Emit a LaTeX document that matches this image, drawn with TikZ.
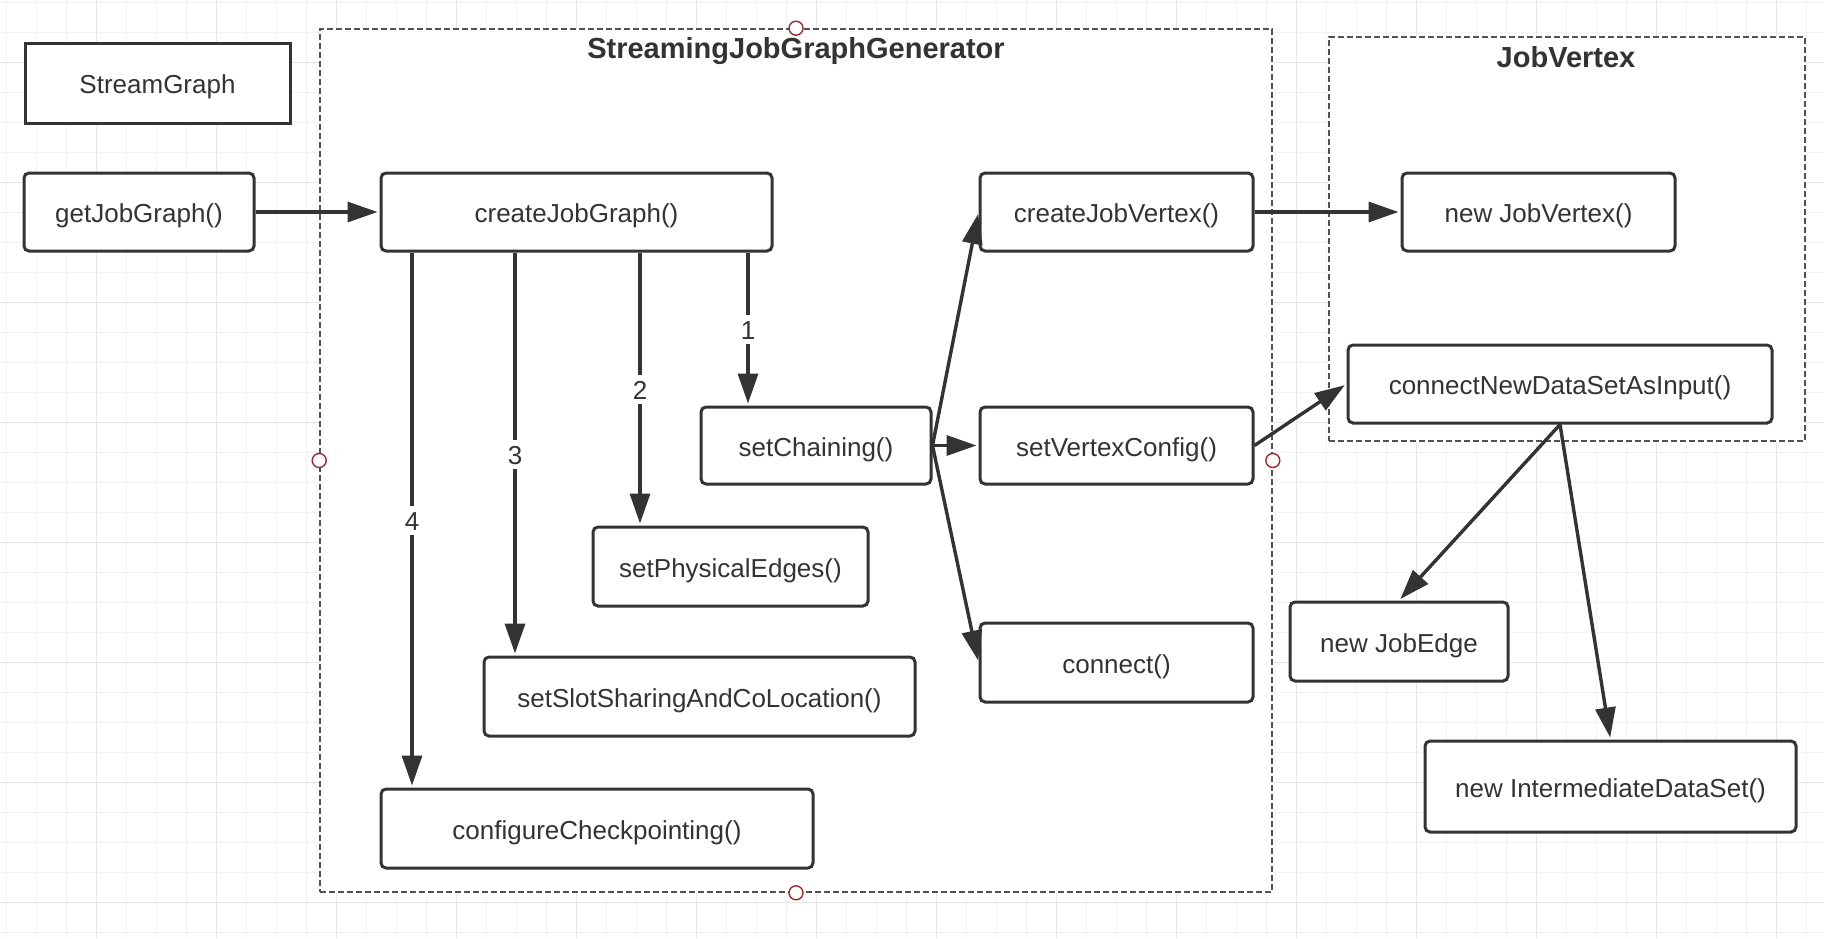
\documentclass[tikz,border=0pt]{standalone}
\usepackage{fontspec}
\setmainfont{Liberation Sans}
\usetikzlibrary{arrows.meta}
\definecolor{ink}{HTML}{333333}
\definecolor{gridlo}{HTML}{F2F2F2}
\definecolor{gridhi}{HTML}{E6E6E6}
\definecolor{handlered}{HTML}{9E2A2A}

\begin{document}
\begin{tikzpicture}[x=0.5pt,y=-0.5pt]
\tikzstyle{box}=[draw=ink,line width=1.5pt,fill=white,rounded corners=2.5pt,text=ink,font=\fontsize{13}{15}\selectfont,text height=10.5pt,text depth=0pt,minimum height=39pt,inner sep=0pt];
\tikzstyle{frame}=[draw=ink!85,dash pattern=on 3pt off 1.5pt,line width=0.8pt,fill=white,inner sep=0pt];
\tikzstyle{title}=[text=ink,font=\fontsize{14.5}{17}\selectfont\bfseries];
\tikzstyle{handle}=[draw=handlered,fill=white,circle,line width=0.7pt,minimum size=7pt,inner sep=0pt];
\tikzstyle{arr}=[draw=ink,line width=1.7pt,-{Triangle[length=15pt,width=10pt]},shorten >=1pt];
\tikzstyle{num}=[fill=white,text=ink,font=\fontsize{13}{15}\selectfont,text height=10.5pt,text depth=0pt,inner sep=2pt];

\useasboundingbox (0,0) rectangle (1824,938);
% background grid
\fill[white] (0,0) rectangle (1824,938);
\foreach \x in {6.7,36.7,...,1824} \draw[gridlo,line width=0.6pt] (\x,0) -- (\x,938);
\foreach \y in {2.7,32.7,...,938} \draw[gridlo,line width=0.6pt] (0,\y) -- (1824,\y);
\foreach \x in {96.7,216.7,...,1824} \draw[gridhi,line width=0.6pt] (\x,0) -- (\x,938);
\foreach \y in {62.7,182.7,...,938} \draw[gridhi,line width=0.6pt] (0,\y) -- (1824,\y);

% frames
\node[frame,minimum width=476pt,minimum height=431.5pt] (genFrame) at (796,460.5) {};
\node[frame,minimum width=238pt,minimum height=202pt] (vertexFrame) at (1567,239) {};
\node[title] (genTitle) at (796,51) {StreamingJobGraphGenerator};
\node[title] (vertexTitle) at (1566,57) {JobVertex};

% boxes
\node[box,rounded corners=0pt,minimum width=132.5pt,minimum height=40pt] (streamGraph) at (157.5,83) {StreamGraph};
\node[box,minimum width=115pt] (getJobGraph) at (139,212) {getJobGraph()};
\node[box,minimum width=195.5pt] (createJobGraph) at (576.5,212) {createJobGraph()};
\node[box,minimum width=136.5pt] (createJobVertex) at (1116.5,212) {createJobVertex()};
\node[box,minimum width=136.5pt] (newJobVertex) at (1538.5,212) {new JobVertex()};
\node[box,minimum width=115pt,minimum height=38.5pt] (setChaining) at (816,445.5) {setChaining()};
\node[box,minimum width=136.5pt,minimum height=38.5pt] (setVertexConfig) at (1116.5,445.5) {setVertexConfig()};
\node[box,minimum width=212pt] (connectNewDataSetAsInput) at (1560,384) {connectNewDataSetAsInput()};
\node[box,minimum width=137.5pt,minimum height=39.5pt] (setPhysicalEdges) at (730.5,566.5) {setPhysicalEdges()};
\node[box,minimum width=136.5pt,minimum height=39.5pt] (connect) at (1116.5,662.5) {connect()};
\node[box,minimum width=109pt,minimum height=39.5pt] (newJobEdge) at (1399,641.5) {new JobEdge};
\node[box,minimum width=215.5pt,minimum height=39.5pt] (setSlotSharing) at (699.5,696.5) {setSlotSharingAndCoLocation()};
\node[box,minimum width=185.5pt,minimum height=45.5pt] (newIntermediateDataSet) at (1610.5,786.5) {new IntermediateDataSet()};
\node[box,minimum width=216pt,minimum height=39.5pt] (configureCheckpointing) at (597,828.5) {configureCheckpointing()};

% connectors
\coordinate (c1) at (748,0);
\coordinate (c2) at (640,0);
\coordinate (c3) at (515,0);
\coordinate (c4) at (412,0);
\draw[arr] (getJobGraph) -- (createJobGraph);
\draw[arr] (createJobGraph.south -| c1) -- node[num] (n1) {1} (setChaining.north -| c1);
\draw[arr] (createJobGraph.south -| c2) -- node[num] (n2) {2} (setPhysicalEdges.north -| c2);
\draw[arr] (createJobGraph.south -| c3) -- node[num] (n3) {3} (setSlotSharing.north -| c3);
\draw[arr] (createJobGraph.south -| c4) -- node[num] (n4) {4} (configureCheckpointing.north -| c4);
\draw[arr] (setChaining.east) -- (createJobVertex.west);
\draw[arr] (setChaining.east) -- (setVertexConfig.west);
\draw[arr] (setChaining.east) -- (connect.west);
\draw[arr] (createJobVertex) -- (newJobVertex);
\draw[arr] (setVertexConfig.east) -- (connectNewDataSetAsInput.west);
\draw[arr] (connectNewDataSetAsInput.south) -- (newJobEdge.north);
\draw[arr] (connectNewDataSetAsInput.south) -- (newIntermediateDataSet.north);

% handles on the generator frame
\foreach \a in {north,south,east,west}
  \node[handle] (h-\a) at (genFrame.\a) {};
\end{tikzpicture}
\end{document}
